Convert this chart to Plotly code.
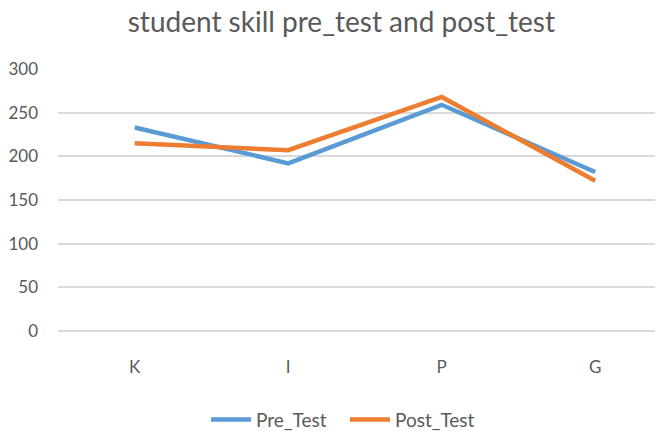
import plotly.graph_objects as go

categories = ["K", "I", "P", "G"]
pre_test = [233, 192, 259, 182]
post_test = [215, 207, 268, 172]
y_ticks = [0, 50, 100, 150, 200, 250, 300]

FONT = "Lato, 'Open Sans', sans-serif"

fig = go.Figure()
fig.add_trace(go.Scatter(x=categories, y=pre_test, name="Pre_Test", mode="lines",
                         line=dict(color="#5B9BD5", width=4.5)))
fig.add_trace(go.Scatter(x=categories, y=post_test, name="Post_Test", mode="lines",
                         line=dict(color="#ED7D31", width=4.5)))

fig.update_layout(
    width=659, height=433,
    margin=dict(l=58, r=4, t=69, b=102),
    paper_bgcolor="white", plot_bgcolor="white",
    font=dict(family=FONT, color="#595959", size=17),
    title=dict(text="student skill pre_test and post_test", x=0.518, xanchor="center",
               xref="container", yref="container", y=0.949, yanchor="middle",
               font=dict(family=FONT, size=28, color="#595959")),
    showlegend=True,
    legend=dict(orientation="h", xref="container", yref="container",
                x=0.5235, xanchor="center", y=0.031, yanchor="middle",
                font=dict(size=19, color="#595959"), itemwidth=40, entrywidth=84),
    xaxis=dict(range=[-0.5, 3.39], showgrid=False, showline=False, zeroline=False,
               ticks="", ticklabelstandoff=24, tickfont=dict(size=17, color="#595959"),
               fixedrange=True),
    yaxis=dict(range=[0, 300], tickvals=y_ticks, showgrid=True, gridcolor="#D9D9D9",
               gridwidth=1.5, zeroline=True, zerolinecolor="#D9D9D9", zerolinewidth=1.5,
               showline=False, ticks="", ticklabelstandoff=19,
               tickfont=dict(size=17, color="#595959"), fixedrange=True),
)

fig.write_html("out.html", config={"displayModeBar": False},
               post_script="document.body.style.margin='0';")
